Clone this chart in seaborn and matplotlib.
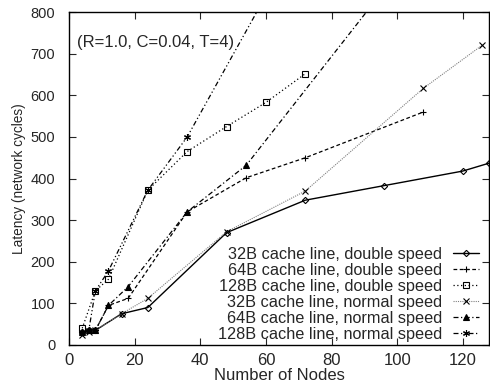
import numpy as np
import pandas as pd
import matplotlib
matplotlib.use("Agg")
import matplotlib.pyplot as plt
import seaborn as sns

# series
nodes_32d = [4, 6, 8, 16, 24, 48, 72, 96, 120, 128]
lat_32d = [30, 35, 35, 75, 90, 270, 348, 383, 418, 437]

nodes_64d = [4, 6, 8, 12, 18, 36, 54, 72, 108]
lat_64d = [30, 35, 35, 95, 112, 320, 402, 450, 560]

nodes_128d = [4, 8, 12, 24, 36, 48, 60, 72]
lat_128d = [40, 130, 158, 372, 465, 525, 583, 652]

nodes_32n = [4, 6, 8, 16, 24, 48, 72, 108, 126]
lat_32n = [25, 30, 35, 75, 112, 272, 370, 617, 721]

nodes_64n = [4, 6, 8, 12, 18, 36, 54, 108]
lat_64n = [30, 35, 35, 95, 140, 320, 432, 975]

nodes_128n = [4, 6, 8, 12, 24, 36, 72]
lat_128n = [30, 35, 130, 178, 372, 500, 1010]

labels = ["32B cache line, double speed", "64B cache line, double speed",
          "128B cache line, double speed", "32B cache line, normal speed",
          "64B cache line, normal speed", "128B cache line, normal speed"]

sns.set_style("ticks")
plt.rcParams['font.family'] = ['Liberation Sans', 'DejaVu Sans']

fig, ax = plt.subplots(figsize=(4.9, 3.92), dpi=100)
fig.subplots_adjust(left=0.141, right=0.998, bottom=0.12, top=0.969)

common = dict(color="black", mec="black", mew=0.8)
series = [(nodes_32d, lat_32d, dict(linestyle="-", marker="D", ms=3.2, mfc="none", lw=1.0)),
          (nodes_64d, lat_64d, dict(linestyle=(0, (3, 2)), marker="+", ms=5, lw=0.9)),
          (nodes_128d, lat_128d, dict(linestyle=(0, (1, 2)), marker="s", ms=4.2, mfc="none", lw=0.9)),
          (nodes_32n, lat_32n, dict(linestyle=(0, (1, 1)), marker="x", ms=4.5, lw=0.8)),
          (nodes_64n, lat_64n, dict(linestyle=(0, (4, 2, 1, 2)), marker="^", ms=4, lw=0.9)),
          (nodes_128n, lat_128n, dict(linestyle=(0, (4, 2, 1, 2, 1, 2)), marker=(6, 2, 0), ms=5, lw=0.9))]

for i, ((xs, ys, kw), lab) in enumerate(zip(series, labels)):
    df = pd.DataFrame({"nodes": xs, "latency": ys})
    opts = dict(common)
    opts.update(kw)
    if i == 3:
        opts["color"] = "#808080"
    sns.lineplot(data=df, x="nodes", y="latency", ax=ax, label=lab, **opts)

ax.set_xlim(0, 128)
ax.set_ylim(0, 800)
ax.set_xticks(range(0, 121, 20))
ax.set_yticks(range(0, 801, 100))
ax.tick_params(direction="in", top=True, right=True, length=5, width=0.8)
ax.tick_params(axis="x", labelsize=12, pad=6)
ax.tick_params(axis="y", labelsize=10.5, pad=10)
for s in ax.spines.values():
    s.set_linewidth(1.0)
    s.set_color("black")
ax.set_xlabel("Number of Nodes", fontsize=12, labelpad=0)
ax.set_ylabel("Latency (network cycles)", fontsize=9.8, labelpad=3)

ax.text(0.02, 0.91, "(R=1.0, C=0.04, T=4)", transform=ax.transAxes,
        fontsize=12, ha="left", va="center")

leg = ax.legend(loc="lower right", bbox_to_anchor=(0.985, 0.0), frameon=False,
                markerfirst=False, fontsize=11.7,
                handlelength=1.6, labelspacing=0.06, handletextpad=0.7,
                borderaxespad=0.1, borderpad=0.1)

fig.savefig("out.png", dpi=100)
